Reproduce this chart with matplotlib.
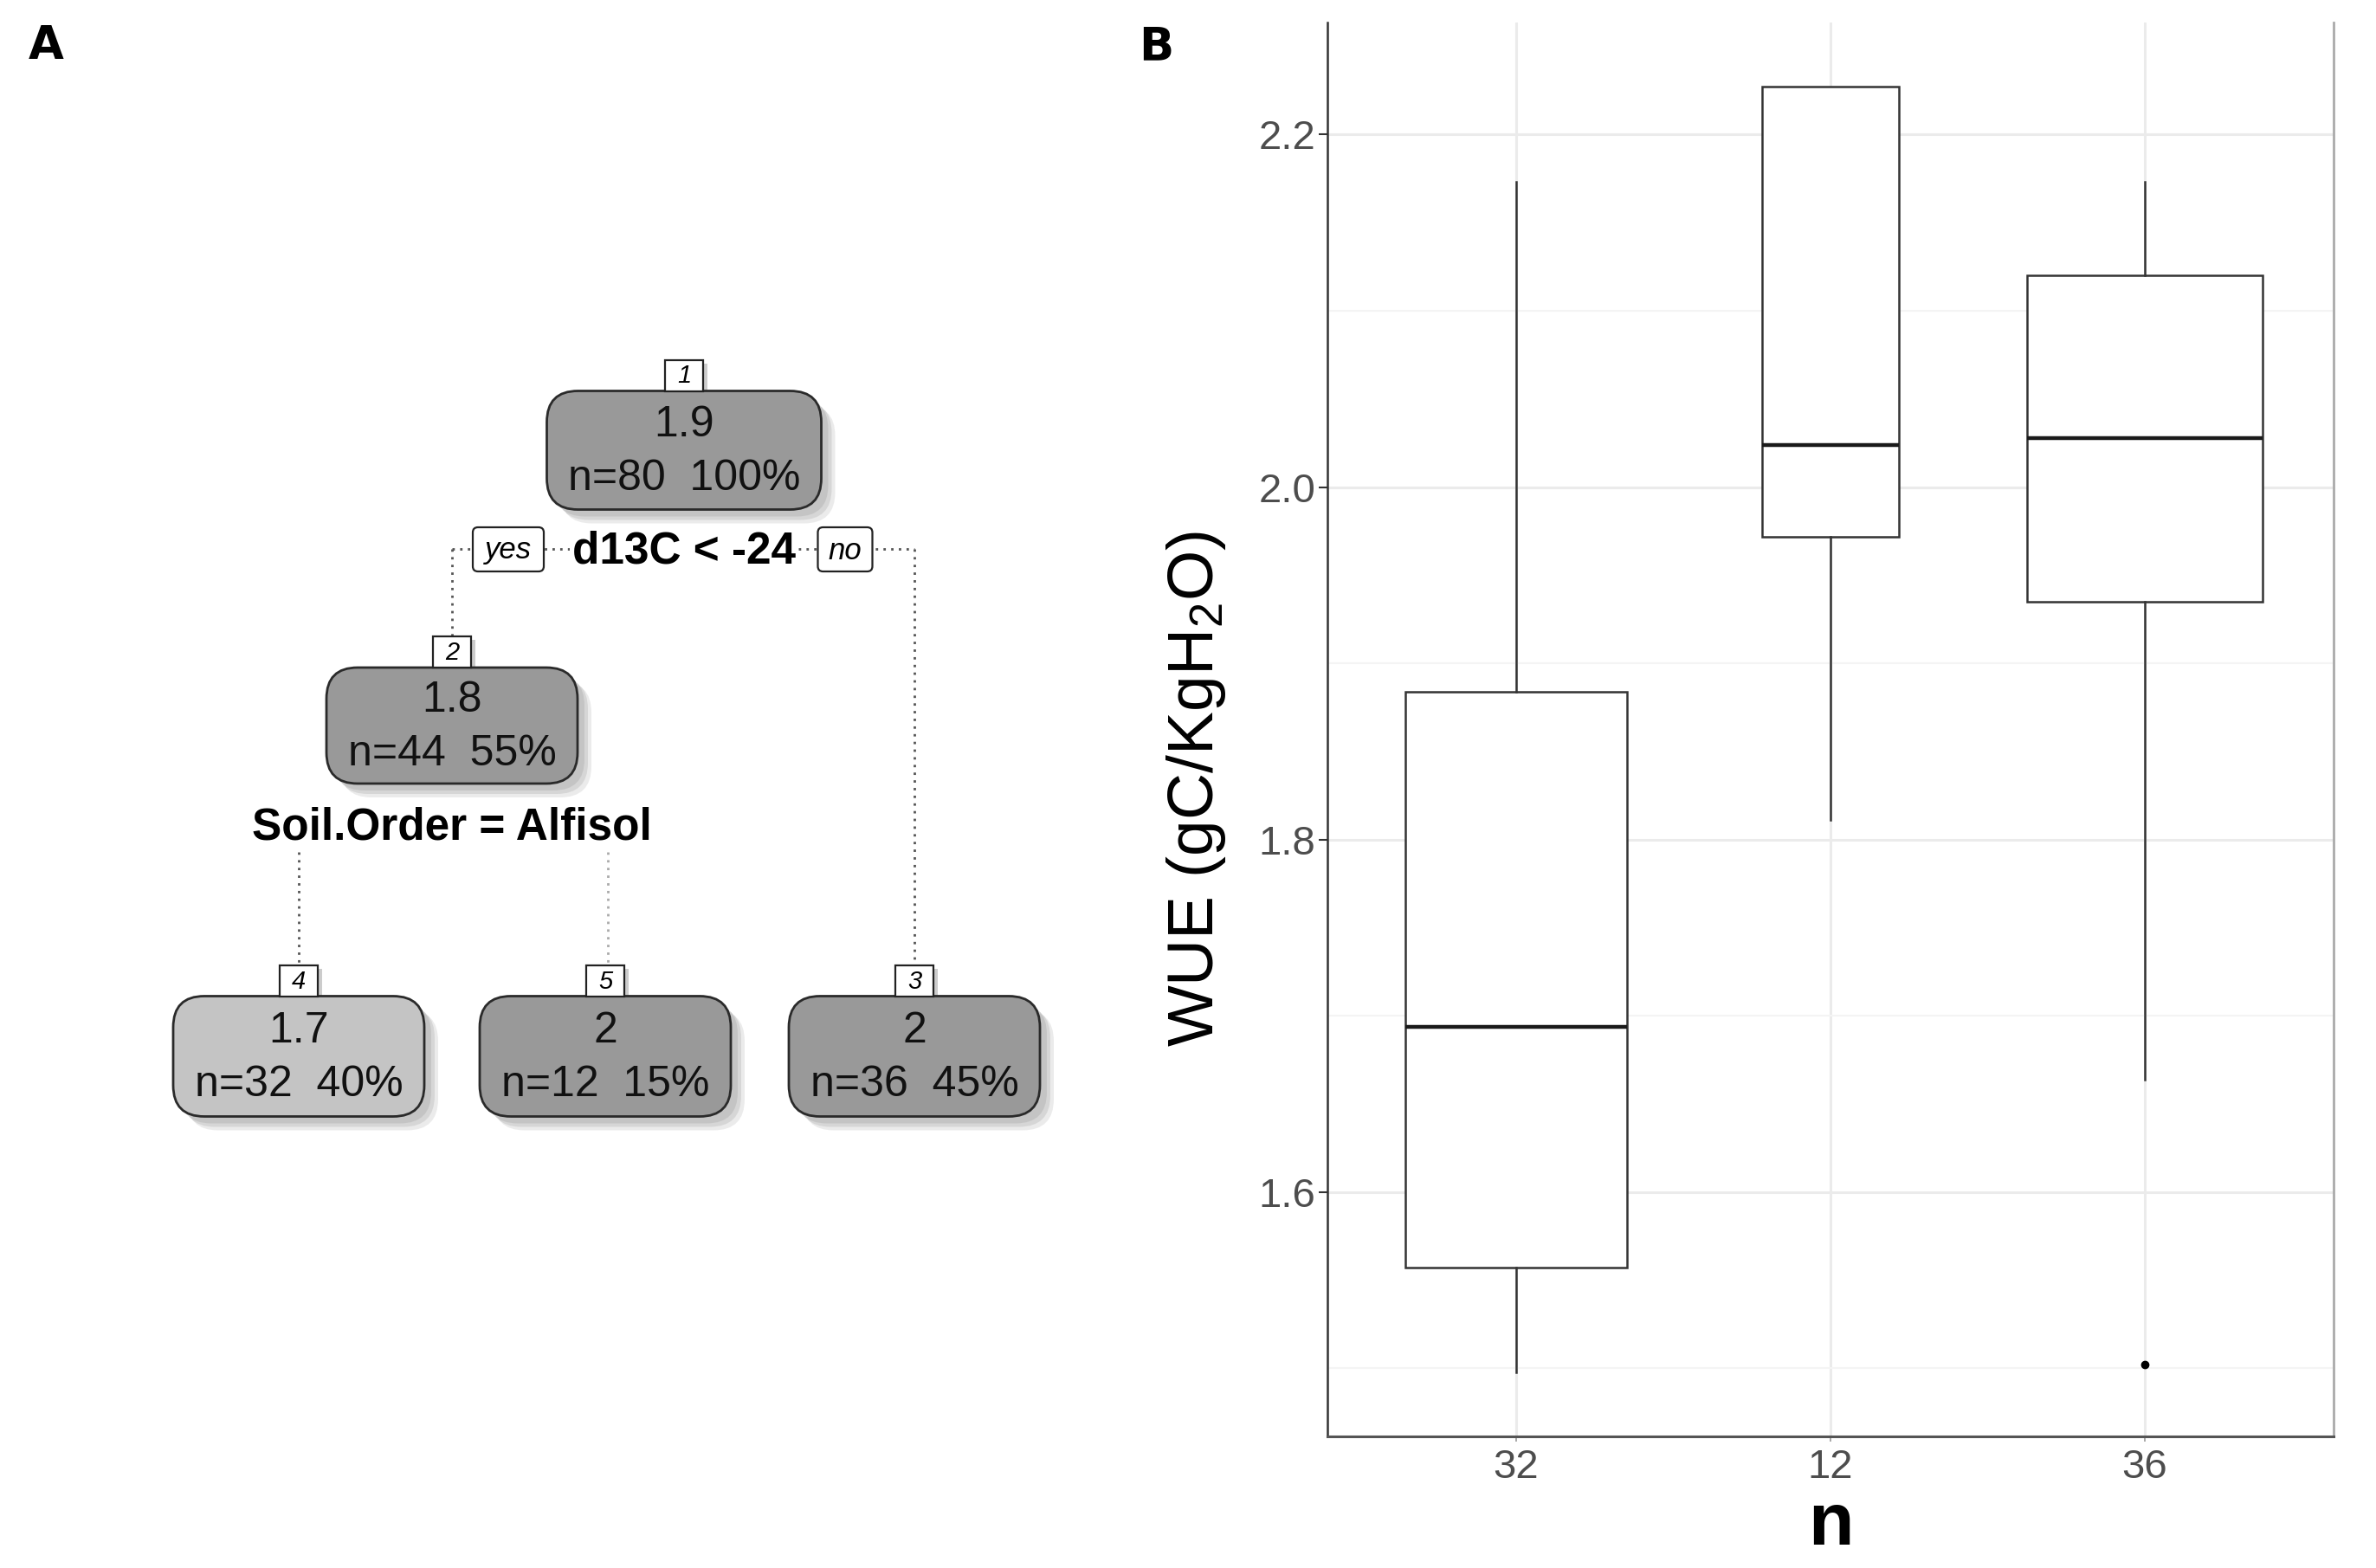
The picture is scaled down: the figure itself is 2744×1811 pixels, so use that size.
import numpy as np
import matplotlib
matplotlib.use("Agg")
import matplotlib.pyplot as plt
from matplotlib.patches import FancyBboxPatch, Rectangle

plt.rcParams['font.family'] = ['Liberation Sans', 'DejaVu Sans']
plt.rcParams['mathtext.fontset'] = 'custom'
plt.rcParams['mathtext.rm'] = 'Liberation Sans'

# ---- panel A : regression tree ----
node_ids  = [1, 2, 3, 4, 5]
node_vals = ['1.9', '1.8', '2', '1.7', '2']
node_n    = [80, 44, 36, 32, 12]
node_pct  = [100, 55, 45, 40, 15]
node_fill = ['#999999', '#999999', '#999999', '#c4c4c4', '#999999']
split_1   = 'd13C < -24'
split_2   = 'Soil.Order = Alfisol'

# ---- panel B : boxplot ----
groups  = ['32', '12', '36']
group_n = [32, 12, 36]
q1      = [1.557, 1.972, 1.935]
med     = [1.694, 2.024, 2.028]
q3      = [1.884, 2.227, 2.120]
whislo  = [1.498, 1.811, 1.664]
whishi  = [2.173, 2.227, 2.173]
fliers  = [[], [], [1.502]]

fig = plt.figure(figsize=(27.44, 18.11), dpi=100)

# tree drawn in pixel-like coords of the left half
axt = fig.add_axes([0, 0, 0.5, 1])
axt.set_xlim(0, 1372)
axt.set_ylim(1811, 0)
axt.axis('off')

# layout (centre x, centre y) per node, same order as node_ids
node_xy = [(790, 520), (522, 838), (1056, 1220), (345, 1220), (699, 1220)]
node_w, node_h = [317, 290, 290, 290, 290], [137, 134, 139, 139, 139]

dot = (0, (1, 2.2))
# branch lines
x1, y1 = node_xy[0]
x2, y2 = node_xy[1]
x3, y3 = node_xy[2]
axt.plot([x2, x3], [634, 634], color='#555555', lw=2, ls=dot, zorder=1)
axt.plot([x2, x2], [634, 735], color='#555555', lw=2, ls=dot, zorder=1)
axt.plot([x3, x3], [634, 1115], color='#555555', lw=2, ls=dot, zorder=1)
axt.plot([node_xy[3][0]] * 2, [984, 1115], color='#555555', lw=2, ls=dot, zorder=1)
axt.plot([702, 702], [984, 1115], color='#aaaaaa', lw=2, ls=dot, zorder=1)

for i, nid in enumerate(node_ids):
    cx, cy = node_xy[i]
    w, h = node_w[i], node_h[i]
    # soft shadow
    for off, a in [(16, 0.25), (12, 0.35), (8, 0.45)]:
        axt.add_patch(FancyBboxPatch((cx - w / 2 + off, cy - h / 2 + off), w, h,
                                     boxstyle="round,pad=0,rounding_size=36",
                                     fc='#b0b0b0', ec='none', alpha=a, zorder=2))
    axt.add_patch(FancyBboxPatch((cx - w / 2, cy - h / 2), w, h,
                                 boxstyle="round,pad=0,rounding_size=36",
                                 fc=node_fill[i], ec='#2a2a2a', lw=2, zorder=3))
    axt.text(cx, cy - 29, node_vals[i], ha='center', va='center', fontsize=36,
             color='#111111', zorder=4)
    axt.text(cx, cy + 33, f'n={node_n[i]}  {node_pct[i]}%', ha='center', va='center',
             fontsize=36, color='#111111', zorder=4)
    # node number box
    bx, by = cx - 22, cy - h / 2 - 36
    axt.add_patch(Rectangle((bx + 5, by + 4), 44, 36, fc='#cccccc', ec='none', zorder=2))
    axt.add_patch(Rectangle((bx, by), 44, 36, fc='white', ec='#222222', lw=1.6, zorder=3))
    axt.text(cx, by + 19, str(nid), ha='center', va='center', fontsize=21,
             style='italic', zorder=4)

# split labels
axt.text(x1, 637, split_1, ha='center', va='center', fontsize=37, fontweight='bold',
         zorder=4, bbox=dict(fc='white', ec='none', pad=2))
axt.text(x2, 956, split_2, ha='center', va='center', fontsize=37, fontweight='bold',
         zorder=4)
for lab, lx, w in [('yes', 587, 82), ('no', 976, 63)]:
    axt.add_patch(FancyBboxPatch((lx - w / 2, 609), w, 51,
                                 boxstyle="round,pad=0,rounding_size=6",
                                 fc='white', ec='#222222', lw=1.6, zorder=3))
    axt.text(lx, 636, lab, ha='center', va='center', fontsize=25, style='italic', zorder=4)

fig.text(0.0195, 0.971, 'A', fontsize=38, fontweight='heavy', family='DejaVu Sans',
         ha='center', va='center')
fig.text(0.4865, 0.970, 'B', fontsize=38, fontweight='heavy', family='DejaVu Sans',
         ha='center', va='center')

# ---- boxplot (varwidth: width ~ sqrt(n)) ----
ax = fig.add_axes([0.5587, 0.0840, 0.4234, 0.9016])
stats = []
for i in range(len(groups)):
    stats.append(dict(med=med[i], q1=q1[i], q3=q3[i], whislo=whislo[i],
                      whishi=whishi[i], fliers=fliers[i]))
pos = np.arange(1, len(groups) + 1)
widths = 0.75 * np.sqrt(np.array(group_n) / max(group_n))
ax.bxp(stats, positions=pos, widths=widths, showcaps=False, patch_artist=True,
       boxprops=dict(facecolor='white', edgecolor='#333333', linewidth=1.8),
       whiskerprops=dict(color='#333333', linewidth=1.8),
       medianprops=dict(color='#1a1a1a', linewidth=3.2),
       flierprops=dict(marker='o', markerfacecolor='black', markeredgecolor='black',
                       markersize=6), zorder=3)

ax.set_xlim(0.4, 3.6)
ax.set_ylim(1.4615, 2.2635)
ax.set_xticks(pos)
ax.set_xticklabels(groups)
ax.set_yticks([1.6, 1.8, 2.0, 2.2])
ax.set_yticklabels(['1.6', '1.8', '2.0', '2.2'])
ax.set_yticks([1.5, 1.7, 1.9, 2.1], minor=True)
ax.grid(True, which='major', color='#ebebeb', lw=2.2, zorder=0)
ax.grid(True, which='minor', axis='y', color='#f4f4f4', lw=1.5, zorder=0)
ax.set_axisbelow(True)

for lab in ax.get_xticklabels() + ax.get_yticklabels():
    lab.set_fontsize(34)
    lab.set_color('#4d4d4d')
ax.tick_params(axis='y', which='major', length=7, width=1.5, color='#333333', pad=3)
ax.tick_params(axis='x', which='major', length=4, width=1.2, color='#999999', pad=6)
ax.tick_params(which='minor', length=0)

ax.spines['top'].set_visible(False)
ax.spines['left'].set_color('#333333')
ax.spines['left'].set_linewidth(1.8)
ax.spines['bottom'].set_color('#555555')
ax.spines['bottom'].set_linewidth(2.2)
ax.spines['right'].set_color('#aaaaaa')
ax.spines['right'].set_linewidth(2)

ax.set_ylabel(r'WUE (gC/KgH$\mathregular{_2}$O)', fontsize=54)
ax.yaxis.set_label_coords(-0.099, 0.458)
ax.set_xlabel('n', fontsize=62, fontweight='bold', labelpad=4)

fig.savefig('out.png', dpi=100)
